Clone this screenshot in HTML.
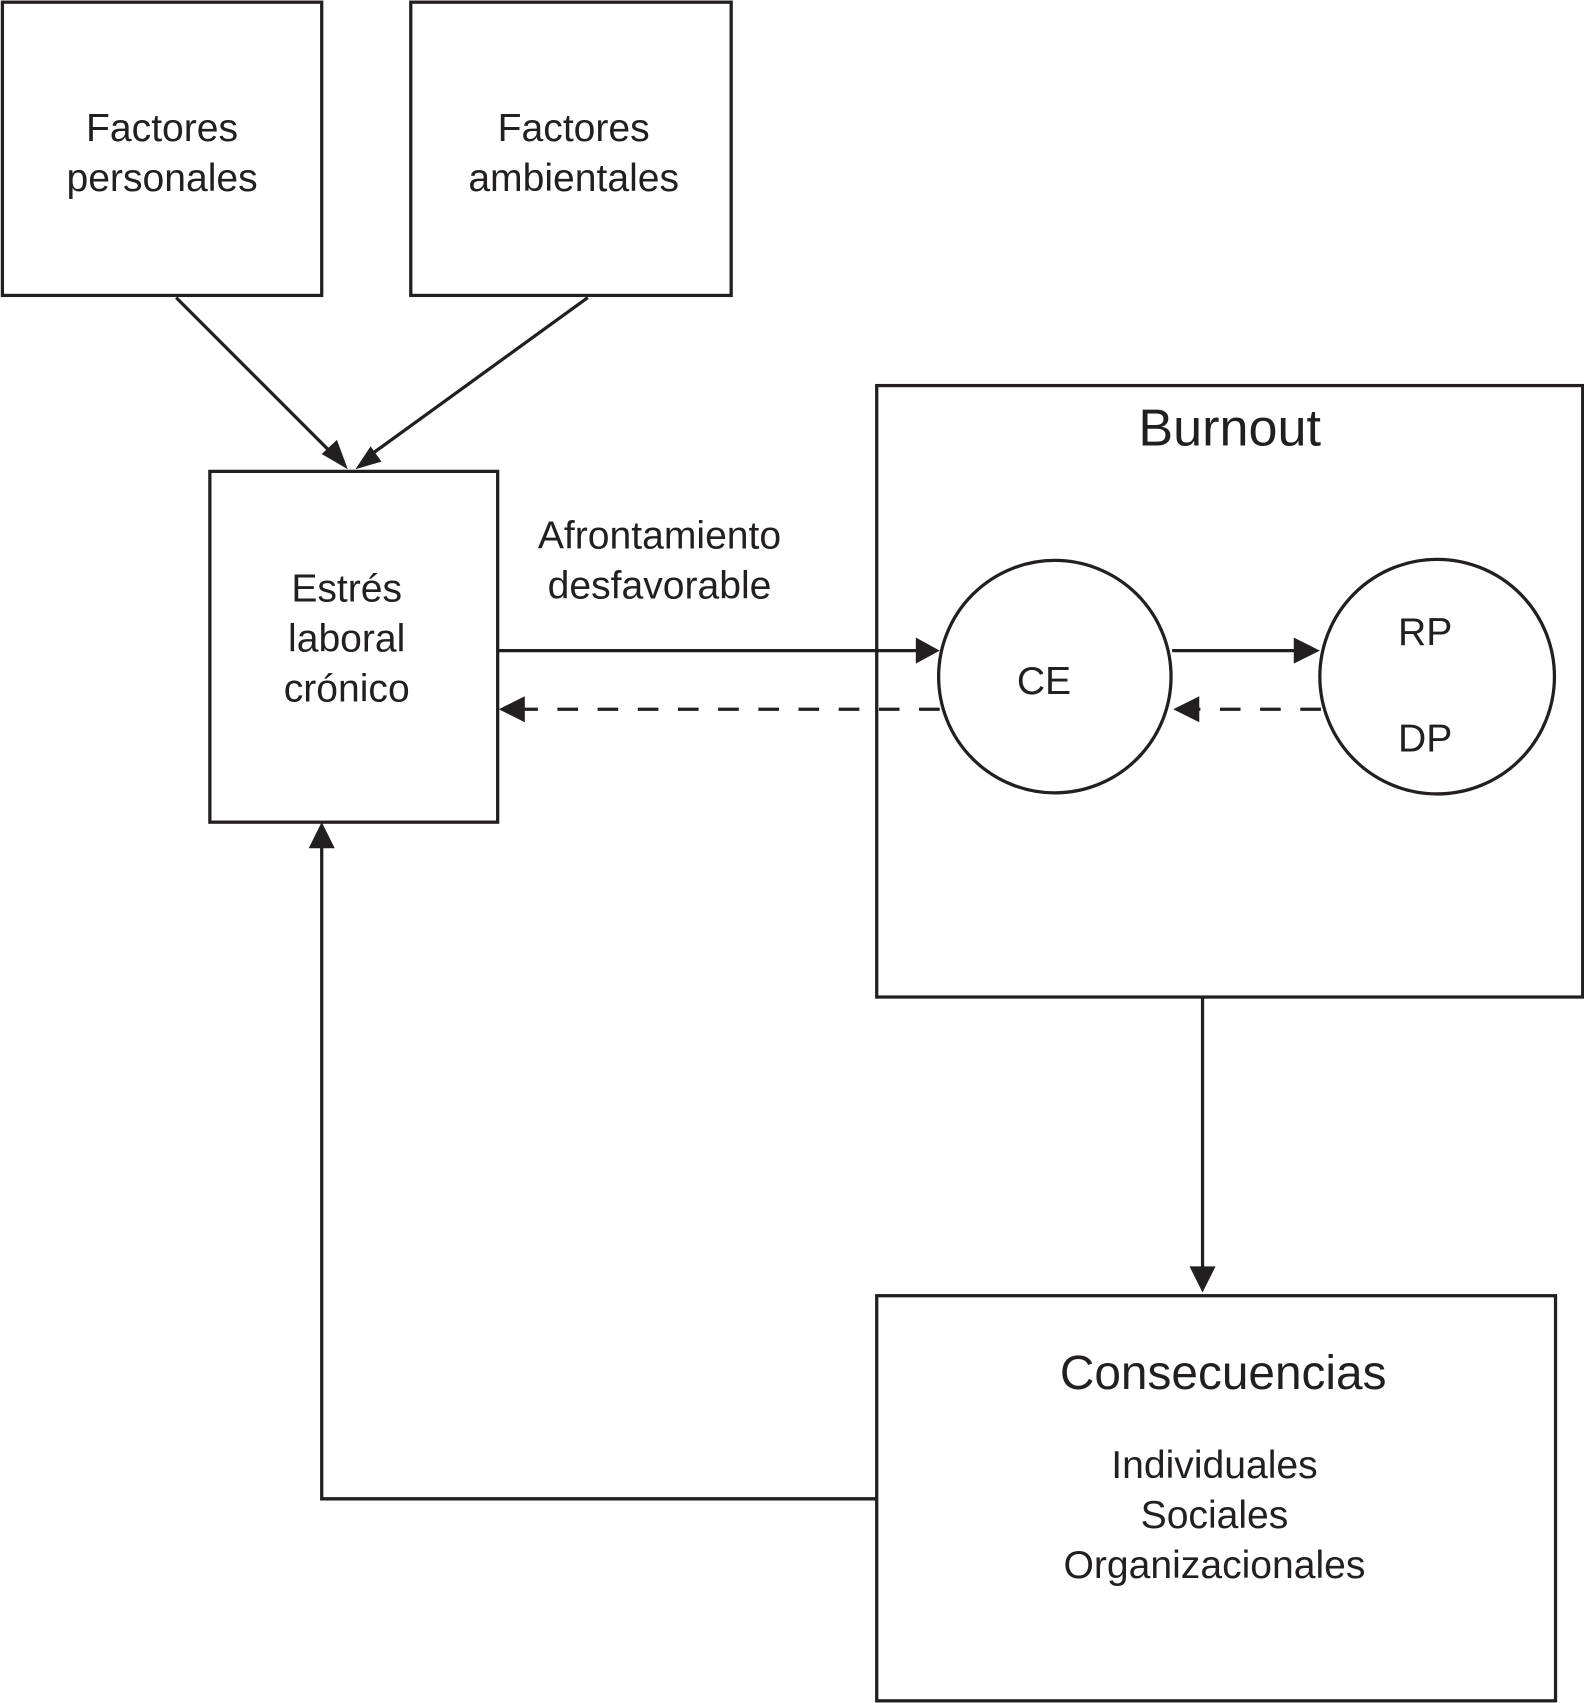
<!DOCTYPE html>
<html><head><meta charset="utf-8"><style>html,body{margin:0;padding:0;background:#fff}svg{display:block}</style></head>
<body>
<svg width="1584" height="1703" viewBox="0 0 1458 1568" xmlns="http://www.w3.org/2000/svg" font-family="Liberation Sans, Arial, sans-serif" fill="#231f20">
<defs>
<marker id="a" markerWidth="10" markerHeight="10" refX="9" refY="5" orient="auto" markerUnits="userSpaceOnUse" viewBox="0 0 10 10">
</marker>
</defs>
<g stroke="#231f20" stroke-width="3" fill="none">
<rect x="2" y="2" width="294" height="270"/>
<rect x="378" y="2" width="295" height="270"/>
<rect x="193" y="434" width="265" height="323"/>
<rect x="807" y="355" width="650" height="563"/>
<rect x="807" y="1193" width="625" height="373"/>
<circle cx="971" cy="623" r="107"/>
<circle cx="1323" cy="623" r="108"/>
<line x1="162" y1="274" x2="308" y2="420"/>
<line x1="541" y1="274" x2="338" y2="421"/>
<line x1="458" y1="599" x2="845" y2="599"/>
<line x1="865" y1="653" x2="480" y2="653" stroke-dasharray="19,18"/>
<line x1="1079" y1="599" x2="1195" y2="599"/>
<line x1="1216" y1="653" x2="1100" y2="653" stroke-dasharray="19,18"/>
<line x1="1107" y1="918" x2="1107" y2="1170"/>
<polyline points="807,1380 296,1380 296,778"/>
</g>
<g stroke="none">
<polygon points="320,432 296,418 310,405"/>
<polygon points="327,432 341,411 351,425"/>
<polygon points="865,599 843,587 843,611"/>
<polygon points="459,653 483,641 483,665"/>
<polygon points="1215,599 1191,587 1191,611"/>
<polygon points="1080,653 1104,641 1104,665"/>
<polygon points="1107,1190 1095,1166 1119,1166"/>
<polygon points="296,757 284,781 308,781"/>
</g>
<g font-size="36" text-anchor="middle">
<text x="149" y="130">Factores</text>
<text x="149" y="176">personales</text>
<text x="528" y="130">Factores</text>
<text x="528" y="176">ambientales</text>
<text x="319" y="554">Estrés</text>
<text x="319" y="600">laboral</text>
<text x="319" y="646">crónico</text>
<text x="607" y="505">Afrontamiento</text>
<text x="607" y="551">desfavorable</text>
<text x="961" y="639">CE</text>
<text x="1312" y="594">RP</text>
<text x="1312" y="692">DP</text>
<text x="1118" y="1361">Individuales</text>
<text x="1118" y="1407">Sociales</text>
<text x="1118" y="1453">Organizacionales</text>
<text x="1132" y="410" font-size="48">Burnout</text>
<text x="1126" y="1279" font-size="44">Consecuencias</text>
</g>
</svg>
</body></html>
